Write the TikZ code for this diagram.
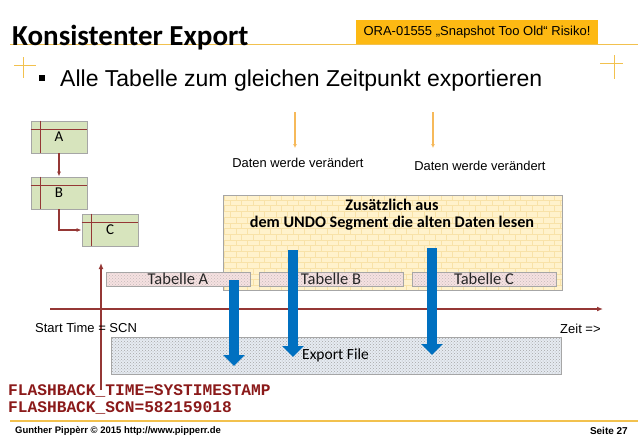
\documentclass[tikz,border=0pt]{standalone}
\usepackage{fontspec}
\setmainfont{Liberation Sans}
\setmonofont{Liberation Mono}
\newfontfamily\calibri{Carlito}
\usetikzlibrary{arrows.meta,patterns,positioning}
\definecolor{oraorange}{HTML}{FDB913}
\definecolor{goldline}{HTML}{F2C14E}
\definecolor{darkred}{HTML}{953735}
\definecolor{tblgreen}{HTML}{D7E4BD}
\definecolor{boxgray}{HTML}{A6A6A6}
\definecolor{undoyellow}{HTML}{FFF2CC}
\definecolor{brickcol}{HTML}{F8E2A8}
\definecolor{tblpink}{HTML}{F5E1E1}
\definecolor{exportblue}{HTML}{E6EBF2}
\definecolor{msblue}{HTML}{0070C0}
\definecolor{lightorange}{HTML}{F6B95A}
\definecolor{flashred}{HTML}{8B1A1A}
\tikzset{
    tblicon/.style={draw=boxgray, fill=tblgreen, line width=0.8pt,
        minimum width=56pt, minimum height=32pt, inner sep=0pt,
        font=\calibri\fontsize{15}{17}\selectfont},
    tabelle/.style={draw=boxgray, line width=0.8pt,
        preaction={fill=tblpink}, pattern=crosshatch dots, pattern color=tblpink!60!gray,
        minimum width=144pt, minimum height=14pt, inner sep=0pt,
        text=black!85, font=\calibri\fontsize{16.5}{18}\selectfont},
    relarrow/.style={darkred, line width=1.2pt, -{Latex[length=5pt,width=4pt]}},
    axis/.style={darkred, line width=1.6pt, -{Latex[length=6pt,width=5pt]}},
    change/.style={lightorange, line width=1.5pt, -{Latex[length=4pt,width=4pt]}},
    bigarrow/.style={msblue, line width=10pt, -{Triangle[width=21pt,length=11pt]}},
    label/.style={inner sep=0pt, font=\fontsize{12.9}{14}\selectfont}
}

\begin{document}
\begin{tikzpicture}[x=1pt,y=-1pt]
\useasboundingbox (0,0) rectangle (638,442);
% title bar
\draw[goldline, line width=1pt] (10,44) -- (638,44);
\node[anchor=base west, inner sep=0pt, font=\calibri\bfseries\fontsize{29}{33}\selectfont] (title) at (12,45) {Konsistenter Export};
\node[fill=oraorange, minimum width=242pt, minimum height=24pt, inner sep=0pt, font=\fontsize{13}{15}\selectfont] (risk) at (477,32) {ORA-01555 „Snapshot Too Old“ Risiko!};
\draw[goldline, line width=0.8pt] (14,65) -- (36,65) (23,57) -- (23,78);
\draw[goldline, line width=0.8pt] (600,63) -- (623,63) (614,55) -- (614,79);
\node[fill=black, minimum size=5.5pt, inner sep=0pt] (bullet) at (42,78) {};
\node[anchor=base west, inner sep=0pt, font=\fontsize{23}{27}\selectfont] (intro) at (60,86) {Alle Tabelle zum gleichen Zeitpunkt exportieren};

% table relations
\node[tblicon] (A) at (59,137) {A};
\node[tblicon] (B) at (59,193) {B};
\node[tblicon] (C) at (110,230) {C};
\foreach \t in {A,B,C}
    \draw[darkred, line width=0.7pt] ([yshift=-9pt]\t.north west) -- ([yshift=-9pt]\t.north east)
        ([xshift=10pt]\t.north west) -- ([xshift=10pt]\t.south west);
\draw[relarrow] (A) -- (B);
\draw[relarrow] (B.south) |- (C.west);

% changes
\coordinate (chg1top) at (295,112);
\coordinate (chg1tip) at (295,148);
\coordinate (chg2top) at (433,112);
\coordinate (chg2tip) at (433,148);
\draw[change] (chg1top) -- (chg1tip);
\draw[change] (chg2top) -- (chg2tip);
\node[label] (chg1txt) at (298,163) {Daten werde verändert};
\node[label] (chg2txt) at (480,166) {Daten werde verändert};

% undo segment
\node[draw=boxgray, line width=0.8pt, preaction={fill=undoyellow}, pattern=bricks, pattern color=brickcol,
    minimum width=339pt, minimum height=95pt, inner sep=0pt] (undo) at (392.5,242.5) {};
\node[anchor=north, align=center, inner sep=0pt, font=\calibri\bfseries\fontsize{16.2}{17}\selectfont] (undotxt) at (392,199) {Zusätzlich aus\\dem UNDO Segment die alten Daten lesen};

\node[tabelle] (tabA) at (178,279) {Tabelle A};
\node[tabelle] (tabB) at (331,279) {Tabelle B};
\node[tabelle] (tabC) at (484,279) {Tabelle C};

% time axis
\coordinate (t0) at (50,309);
\coordinate (tEnd) at (603,309);
\coordinate (scnBot) at (101,390);
\coordinate (scnTop) at (101,263);
\draw[axis] (t0) -- (tEnd);
\draw[axis] (scnBot) -- (scnTop);
\node[anchor=west, inner sep=0pt, font=\fontsize{13}{15}\selectfont] (start) at (35,328) {Start Time = SCN};
\node[anchor=west, inner sep=0pt, font=\fontsize{13}{15}\selectfont] (zeit) at (560,329) {Zeit =>};

% export file
\node[draw=boxgray, line width=0.8pt, preaction={fill=exportblue}, pattern=crosshatch dots, pattern color=gray!70,
    minimum width=450pt, minimum height=37pt, inner sep=0pt] (exp) at (336,355.5) {};
\node[anchor=west, inner sep=0pt, font=\calibri\fontsize{15.5}{17}\selectfont] (exptxt) at (302,355) {Export File};
\coordinate (readA) at (234,280);
\coordinate (readAtip) at (234,366);
\coordinate (readB) at (293,250);
\coordinate (readBtip) at (293,357);
\coordinate (readC) at (432,248);
\coordinate (readCtip) at (432,355);
\draw[bigarrow] (readA) -- (readAtip);
\draw[bigarrow] (readB) -- (readBtip);
\draw[bigarrow] (readC) -- (readCtip);

% flashback parameters
\node[anchor=base west, inner sep=0pt, text=flashred, font=\ttfamily\bfseries\fontsize{16.2}{18}\selectfont] (fbtime) at (8,395) {FLASHBACK\_TIME=SYSTIMESTAMP};
\node[anchor=base west, inner sep=0pt, text=flashred, font=\ttfamily\bfseries\fontsize{16.2}{18}\selectfont] (fbscn) at (8,412) {FLASHBACK\_SCN=582159018};

% footer
\draw[goldline, line width=1.5pt] (10,421) -- (638,421);
\node[anchor=west, inner sep=0pt, font=\bfseries\fontsize{9.5}{12}\selectfont] (footer) at (15,431) {Gunther Pippèrr \textcopyright\ 2015 http://www.pipperr.de};
\node[anchor=east, inner sep=0pt, font=\bfseries\fontsize{10}{12}\selectfont] (page) at (628,431) {Seite 27};
\end{tikzpicture}
\end{document}
